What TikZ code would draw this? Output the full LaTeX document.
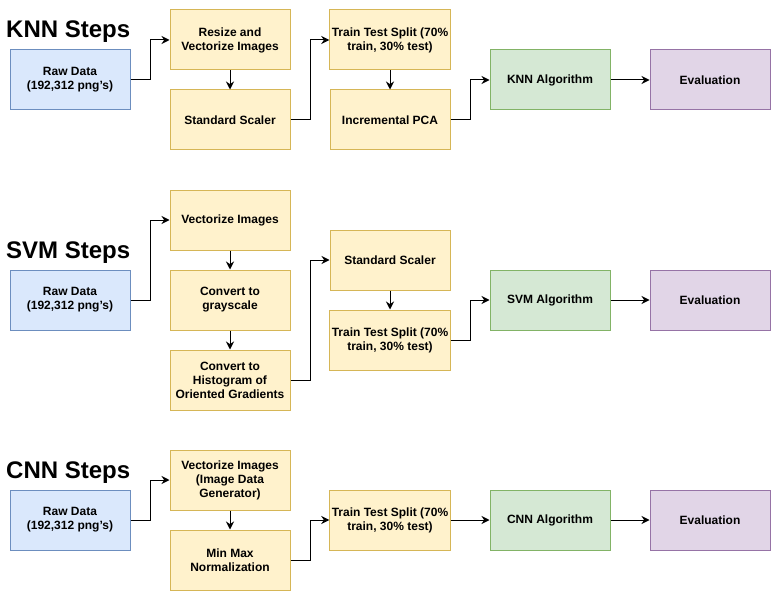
\documentclass[tikz,border=0pt]{standalone}
\usepackage{fontspec}
\setmainfont{Liberation Sans}
\usetikzlibrary{arrows.meta}
\definecolor{bfill}{HTML}{DAE8FC}\definecolor{bdraw}{HTML}{6C8EBF}
\definecolor{yfill}{HTML}{FFF2CC}\definecolor{ydraw}{HTML}{D6B656}
\definecolor{gfill}{HTML}{D5E8D4}\definecolor{gdraw}{HTML}{82B366}
\definecolor{pfill}{HTML}{E1D5E7}\definecolor{pdraw}{HTML}{9673A6}
\tikzset{
  box/.style={draw, line width=1pt, minimum width=120pt, minimum height=60pt, inner sep=2pt,
    align=center, font=\fontsize{12}{14}\selectfont\bfseries},
  rawbox/.style={box, fill=bfill, draw=bdraw},
  stepbox/.style={box, fill=yfill, draw=ydraw},
  algbox/.style={box, fill=gfill, draw=gdraw},
  evalbox/.style={box, fill=pfill, draw=pdraw},
  ttl/.style={font=\fontsize{24}{28}\selectfont\bfseries, anchor=base west, inner sep=0pt},
  conn/.style={line width=1pt, -{Stealth[length=8pt,width=8pt]}},
}
\begin{document}
\begin{tikzpicture}[x=1pt,y=-1pt]
\useasboundingbox (0,0) rectangle (771,591);
% KNN
\node[ttl] (t1) at (6,38) {KNN Steps};
\node[rawbox] (r1) at (70,80) {Raw Data\\(192,312 png's)};
\node[stepbox] (k1) at (230,40) {Resize and\\Vectorize Images};
\node[stepbox] (k2) at (230,120) {Standard Scaler};
\node[stepbox] (k3) at (390,40) {Train Test Split (70\%\\train, 30\% test)};
\node[stepbox] (k4) at (390,120) {Incremental PCA};
\node[algbox] (k5) at (550,80) {KNN Algorithm};
\node[evalbox] (k6) at (710,80) {Evaluation};
\draw[conn] (r1.east) -- ++(20,0) |- (k1.west);
\draw[conn] (k1) -- (k2);
\draw[conn] (k2.east) -- ++(20,0) |- (k3.west);
\draw[conn] (k3) -- (k4);
\draw[conn] (k4.east) -- ++(20,0) |- (k5.west);
\draw[conn] (k5) -- (k6);
% SVM
\node[ttl] (t2) at (6,258) {SVM Steps};
\node[rawbox] (r2) at (70,300) {Raw Data\\(192,312 png's)};
\node[stepbox] (s1) at (230,220) {Vectorize Images};
\node[stepbox] (s2) at (230,300) {Convert to\\grayscale};
\node[stepbox] (s3) at (230,380) {Convert to\\Histogram of\\Oriented Gradients};
\node[stepbox] (s4) at (390,260) {Standard Scaler};
\node[stepbox] (s5) at (390,340) {Train Test Split (70\%\\train, 30\% test)};
\node[algbox] (s6) at (550,300) {SVM Algorithm};
\node[evalbox] (s7) at (710,300) {Evaluation};
\draw[conn] (r2.east) -- ++(20,0) |- (s1.west);
\draw[conn] (s1) -- (s2);
\draw[conn] (s2) -- (s3);
\draw[conn] (s3.east) -- ++(20,0) |- (s4.west);
\draw[conn] (s4) -- (s5);
\draw[conn] (s5.east) -- ++(20,0) |- (s6.west);
\draw[conn] (s6) -- (s7);
% CNN
\node[ttl] (t3) at (6,478) {CNN Steps};
\node[rawbox] (r3) at (70,520) {Raw Data\\(192,312 png's)};
\node[stepbox] (c1) at (230,480) {Vectorize Images\\(Image Data\\Generator)};
\node[stepbox] (c2) at (230,560) {Min Max\\Normalization};
\node[stepbox] (c3) at (390,520) {Train Test Split (70\%\\train, 30\% test)};
\node[algbox] (c4) at (550,520) {CNN Algorithm};
\node[evalbox] (c5) at (710,520) {Evaluation};
\draw[conn] (r3.east) -- ++(20,0) |- (c1.west);
\draw[conn] (c1) -- (c2);
\draw[conn] (c2.east) -- ++(20,0) |- (c3.west);
\draw[conn] (c3) -- (c4);
\draw[conn] (c4) -- (c5);
\end{tikzpicture}
\end{document}
